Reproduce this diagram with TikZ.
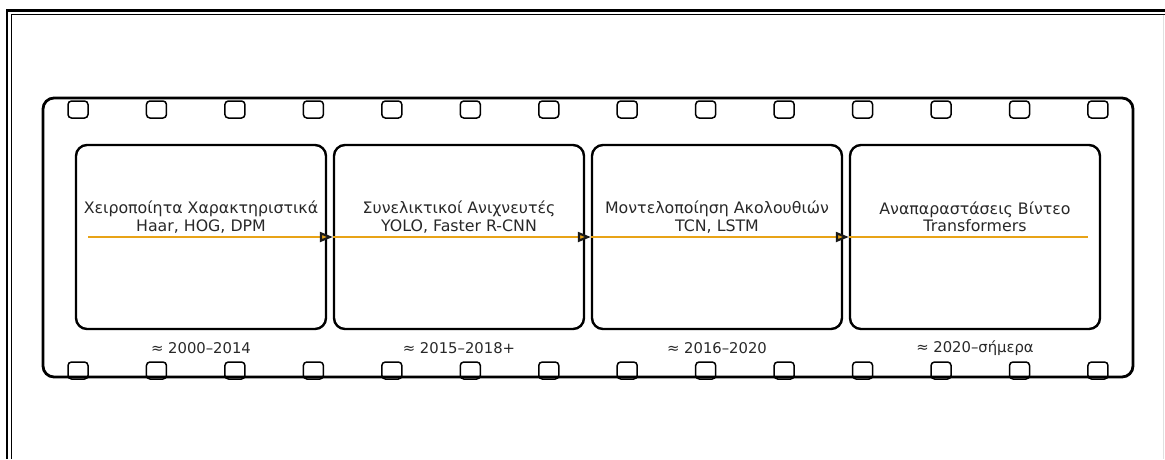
\documentclass[tikz,border=0pt]{standalone}
\usepackage{fontspec}
\setmainfont{DejaVu Sans}
\usetikzlibrary{arrows.meta}
\definecolor{lineorange}{RGB}{232,163,23}
\definecolor{txt}{RGB}{40,40,40}
\tikzset{
  strip/.style={line width=2.8pt, rounded corners=11pt},
  hole/.style={line width=1.5pt, rounded corners=3.5pt},
  framebox/.style={draw, line width=2.4pt, rounded corners=11pt, minimum width=250pt, minimum height=184pt, inner sep=0pt},
  title/.style={align=center, text=txt, font=\fontsize{15.8}{17.5}\selectfont},
  caption/.style={text=txt, font=\fontsize{14.8}{16}\selectfont},
  flow/.style={draw=lineorange, line width=1.3pt, -{Triangle[length=13pt,width=10pt,line width=2.2pt,color=black!90,fill=lineorange]}},
  flowend/.style={draw=lineorange, line width=1.3pt}
}
\begin{document}
\begin{tikzpicture}[x=1pt,y=-1pt]
\useasboundingbox (0,0) rectangle (1165,459);
% outer frame (double line, top and left)
\draw[line width=2.6pt] (7,459) -- (7,10.5) -- (1165,10.5);
\draw[line width=1pt] (11.5,459) -- (11.5,14.5) -- (1165,14.5);
\draw[black!12, line width=0.8pt] (1163,14.5) -- (1163,459);
% film strip
\draw[strip] (43,98) rectangle (1133,377);
\foreach \i in {0,...,13} {
  \pgfmathsetmacro{\cx}{78+78.46*\i}
  \draw[hole] (\cx-10,101) rectangle (\cx+10,118);
  \draw[hole] (\cx-10,362) rectangle (\cx+10,379);
}
% frames
\node[framebox] (f1) at (201,237) {};
\node[framebox] (f2) at (459,237) {};
\node[framebox] (f3) at (717,237) {};
\node[framebox] (f4) at (975,237) {};
% titles
\node[title] (t1) at (201,217) {Χειροποίητα Χαρακτηριστικά\\Haar, HOG, DPM};
\node[title] (t2) at (459,217) {Συνελικτικοί Ανιχνευτές\\YOLO, Faster R-CNN};
\node[title] (t3) at (717,217) {Μοντελοποίηση Ακολουθιών\\TCN, LSTM};
\node[title] (t4) at (975,217) {Αναπαραστάσεις Βίντεο\\Transformers};
% captions
\node[caption] (c1) at (201,348) {≈ 2000–2014};
\node[caption] (c2) at (459,348) {≈ 2015–2018+};
\node[caption] (c3) at (717,348) {≈ 2016–2020};
\node[caption] (c4) at (975,348) {≈ 2020–σήμερα};
% flow line
\coordinate (s) at (88,237);
\coordinate (e) at (1088,237);
\draw[flow] (s) -- (f2.west);
\draw[flow] (f2.west) -- (f3.west);
\draw[flow] (f3.west) -- (f4.west);
\draw[flowend] (f4.west) -- (e);
\end{tikzpicture}
\end{document}
